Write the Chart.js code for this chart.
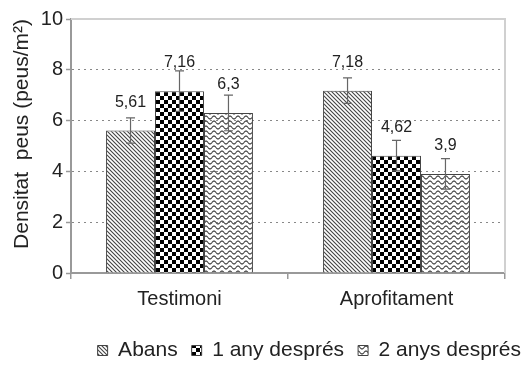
<!DOCTYPE html>
<html>
<head>
<meta charset="utf-8">
<script src="https://cdn.jsdelivr.net/npm/chart.js@4/dist/chart.umd.min.js"></script>
<style>
  html, body { margin: 0; padding: 0; background: #fff; }
  #wrap { width: 525px; height: 366px; position: relative; }
</style>
</head>
<body>
<div id="wrap"><canvas id="c" width="525" height="366"></canvas></div>
<script>
// ---- data ----
const categories = ['Testimoni', 'Aprofitament'];
const seriesNames = ['Abans', '1 any després', '2 anys després'];
const abans = [5.61, 7.18];
const unAny = [7.16, 4.62];
const dosAnys = [6.3, 3.9];
const abansErr = [0.5, 0.5];
const unAnyErr = [0.8, 0.6];
const dosAnysErr = [0.7, 0.6];
const yTicks = [0, 2, 4, 6, 8, 10];
const yTitle = 'Densitat  peus (peus/m²)';

// ---- patterns ----
function mk(w, h) { const c = document.createElement('canvas'); c.width = w; c.height = h; return c; }
function hatch() {
  const c = mk(4, 4), g = c.getContext('2d');
  g.fillStyle = '#fff'; g.fillRect(0, 0, 4, 4);
  g.strokeStyle = '#444'; g.lineWidth = 1.1;
  g.beginPath();
  g.moveTo(-1, -1); g.lineTo(5, 5);
  g.moveTo(-1, 3); g.lineTo(1, 5);
  g.moveTo(3, -1); g.lineTo(5, 1);
  g.stroke();
  return g.createPattern(c, 'repeat');
}
function checker() {
  const c = mk(8, 8), g = c.getContext('2d');
  g.fillStyle = '#fff'; g.fillRect(0, 0, 8, 8);
  g.fillStyle = '#000';
  g.fillRect(0, 0, 4, 4); g.fillRect(4, 4, 4, 4);
  return g.createPattern(c, 'repeat');
}
function wavy() {
  const c = mk(8, 5), g = c.getContext('2d');
  g.strokeStyle = '#444'; g.lineWidth = 1.1;
  g.beginPath();
  for (let x = -1; x <= 9; x += 0.5) {
    const y = 2.5 + 1.5 * Math.sin(2 * Math.PI * x / 8);
    if (x === -1) g.moveTo(x, y); else g.lineTo(x, y);
  }
  g.stroke();
  return g.createPattern(c, 'repeat');
}
const fills = [hatch(), checker(), wavy()];
const seriesValues = [abans, unAny, dosAnys];
const seriesErr = [abansErr, unAnyErr, dosAnysErr];

const FONT = "'Liberation Sans', Arial, sans-serif";

const errorBars = {
  id: 'errorBars',
  afterLayout(chart) {
    const l = chart.legend;
    if (l) { l.top += 7; l.bottom += 7; l.left += 10; l.right += 10; }
  },
  afterDatasetsDraw(chart) {
    const ctx = chart.ctx, ys = chart.scales.y;
    ctx.save();
    chart.data.datasets.forEach((ds, i) => {
      const meta = chart.getDatasetMeta(i);
      meta.data.forEach((bar, j) => {
        const v = ds.data[j], e = seriesErr[i][j];
        const yt = ys.getPixelForValue(v + e), yb = ys.getPixelForValue(v - e);
        ctx.strokeStyle = '#666'; ctx.lineWidth = 1.2; ctx.setLineDash([]);
        ctx.beginPath();
        ctx.moveTo(bar.x, yt); ctx.lineTo(bar.x, yb);
        ctx.moveTo(bar.x - 4.5, yt); ctx.lineTo(bar.x + 4.5, yt);
        ctx.moveTo(bar.x - 4.5, yb); ctx.lineTo(bar.x + 4.5, yb);
        ctx.stroke();
        ctx.fillStyle = '#222';
        ctx.font = '16px ' + FONT;
        ctx.textAlign = 'center'; ctx.textBaseline = 'alphabetic';
        ctx.fillText(String(v).replace('.', ','), bar.x, bar.y - 24);
      });
    });
    const a = chart.chartArea;
    ctx.strokeStyle = '#d0d0d0'; ctx.lineWidth = 2;
    ctx.beginPath();
    ctx.moveTo(a.left, a.top); ctx.lineTo(a.right, a.top); ctx.lineTo(a.right, a.bottom);
    ctx.stroke();
    ctx.restore();
  }
};

new Chart(document.getElementById('c'), {
  type: 'bar',
  data: {
    labels: categories,
    datasets: seriesNames.map((n, i) => ({
      label: n,
      data: seriesValues[i],
      backgroundColor: fills[i],
      borderColor: '#444',
      borderWidth: 1,
      categoryPercentage: 0.677,
      barPercentage: 1
    }))
  },
  options: {
    responsive: false,
    animation: false,
    devicePixelRatio: 1,
    layout: { padding: { top: 19, left: 0, right: 0, bottom: 2 } },
    plugins: {
      tooltip: { enabled: false },
      legend: {
        position: 'bottom',
        align: 'end',
        labels: {
          color: '#222',
          font: { family: FONT, size: 21 },
          boxWidth: 10, boxHeight: 10,
          padding: 14
        }
      }
    },
    scales: {
      x: {
        type: 'category',
        offset: true,
        grid: { offset: true, drawOnChartArea: false, tickLength: 6, color: '#999', lineWidth: 1.5 },
        border: { color: '#999', width: 2 },
        ticks: { color: '#222', font: { family: FONT, size: 20 }, padding: 8 },
        afterFit: s => { s.height = 46; }
      },
      y: {
        min: 0, max: 10,
        afterBuildTicks: s => { s.ticks = yTicks.map(v => ({ value: v })); },
        grid: { color: '#888', lineWidth: 1, tickLength: 5, tickColor: '#999', tickWidth: 1.5 },
        border: { color: '#999', width: 2, dash: [2, 4] },
        ticks: { color: '#222', font: { family: FONT, size: 20 }, padding: 3 },
        title: { display: true, align: 'end', text: yTitle, color: '#222', font: { family: FONT, size: 21 }, padding: { top: 10, bottom: 0 } },
        afterFit: s => { s.width = 71; }
      },
      y2: {
        position: 'right',
        display: true,
        grid: { display: false, drawTicks: false },
        ticks: { display: false },
        border: { display: false },
        afterFit: s => { s.width = 20; }
      }
    }
  },
  plugins: [errorBars]
});
</script>
</body>
</html>
